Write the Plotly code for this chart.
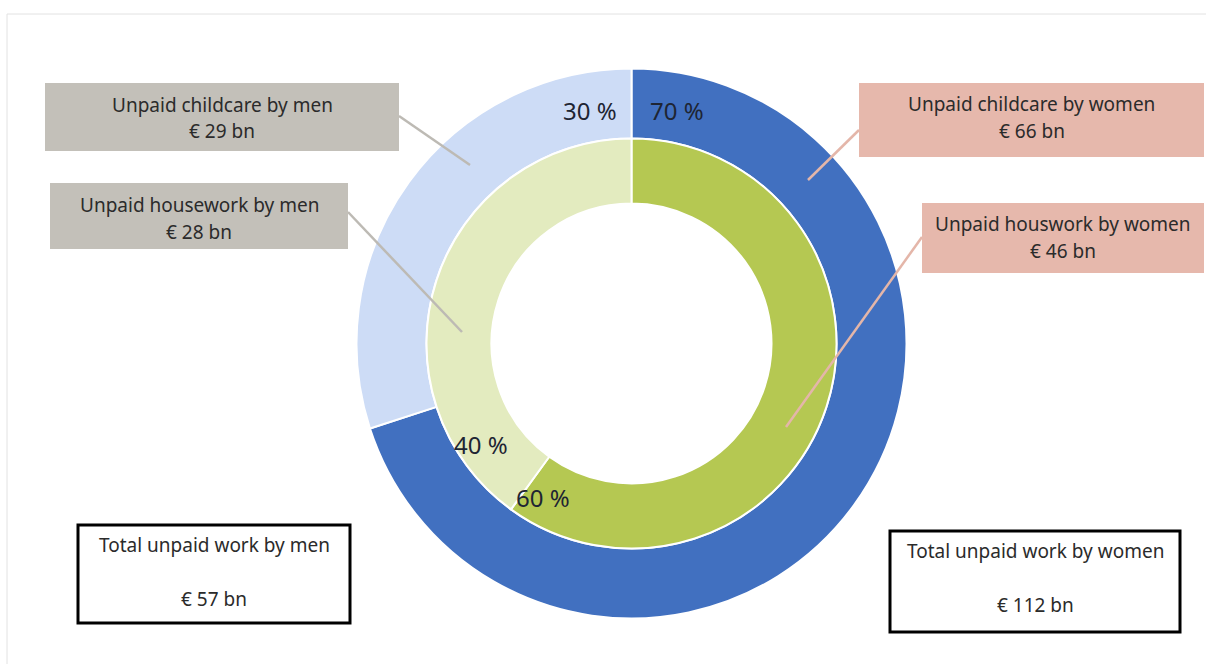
import plotly.graph_objects as go

W, H = 1206, 664

# Shares (percent) of unpaid work by gender
childcare_groups = ["Women", "Men"]
childcare_share = [70, 30]
housework_groups = ["Women", "Men"]
housework_share = [60, 40]

# Monetary value, EUR bn
childcare_bn = {"women": 66, "men": 29}
housework_bn = {"women": 46, "men": 28}
total_bn = {"women": 112, "men": 57}

FONT = "'Noto Sans', 'Open Sans', sans-serif"
TEXT = "#2b2b2b"


def px(x):
    return x / W


def py(y):
    return 1 - y / H


# Ring geometry (pixels)
cx, cy = 631.5, 343.5
r_outer, r_mid, r_inner = 275, 205, 140


def dom(r):
    return dict(x=[px(cx - r), px(cx + r)], y=[py(cy + r), py(cy - r)])


fig = go.Figure()
fig.add_trace(go.Pie(
    labels=childcare_groups, values=childcare_share, sort=False,
    direction="clockwise", rotation=0, hole=r_mid / r_outer,
    domain=dom(r_outer), textinfo="none", hoverinfo="label+percent",
    marker=dict(colors=["#4170C0", "#CDDCF6"], line=dict(color="white", width=2)),
    showlegend=False,
))
fig.add_trace(go.Pie(
    labels=housework_groups, values=housework_share, sort=False,
    direction="clockwise", rotation=0, hole=r_inner / r_mid,
    domain=dom(r_mid), textinfo="none", hoverinfo="label+percent",
    marker=dict(colors=["#B5C852", "#E3EBBF"], line=dict(color="white", width=2)),
    showlegend=False,
))

shapes = []
annotations = []

# Outer frame
shapes.append(dict(type="rect", xref="paper", yref="paper",
                   x0=px(7), x1=px(1220), y0=py(680), y1=py(14),
                   line=dict(color="#E2E2E2", width=1)))


def box(x0, y0, x1, y1, fill, lines, line_ys, border=None, size=19):
    shapes.append(dict(type="rect", xref="paper", yref="paper",
                       x0=px(x0), x1=px(x1), y0=py(y1), y1=py(y0),
                       fillcolor=fill,
                       line=dict(color=border or fill, width=3 if border else 0)))
    for t, ly in zip(lines, line_ys):
        annotations.append(dict(x=px((x0 + x1) / 2), y=py(ly), xref="paper", yref="paper",
                                text=t, showarrow=False,
                                font=dict(family=FONT, size=size, color=TEXT),
                                xanchor="center", yanchor="middle"))


def leader(x0, y0, x1, y1, color):
    shapes.append(dict(type="line", xref="paper", yref="paper",
                       x0=px(x0), y0=py(y0), x1=px(x1), y1=py(y1),
                       line=dict(color=color, width=2.5)))


GREY = "#C3C0B9"
PINK = "#E6B8AC"
GREY_LINE = "#BDBAB4"
PINK_LINE = "#E4B6A9"

leader(399, 116, 470, 165, GREY_LINE)
leader(348, 212, 462, 332, GREY_LINE)
leader(859, 130, 808, 180, PINK_LINE)
leader(922, 237, 786, 427, PINK_LINE)

box(45, 83, 399, 151, GREY,
    ["Unpaid childcare by men", f"€ {childcare_bn['men']} bn"], [105, 131])
box(50, 183, 348, 249, GREY,
    ["Unpaid housework by men", f"€ {housework_bn['men']} bn"], [205, 232])
box(859, 83, 1204, 157, PINK,
    ["Unpaid childcare by women", f"€ {childcare_bn['women']} bn"], [104, 131])
box(922, 203, 1204, 273, PINK,
    ["Unpaid houswork by women", f"€ {housework_bn['women']} bn"], [224, 251])
box(78, 525, 350, 623, "white",
    ["Total unpaid work by men", f"€ {total_bn['men']} bn"], [545, 599], border="black")
box(890, 531, 1180, 632, "white",
    ["Total unpaid work by women", f"€ {total_bn['women']} bn"], [551, 605], border="black")

# Percentage labels on the rings
pct_pos = [
    (f"{childcare_share[1]} %", 590, 110),
    (f"{childcare_share[0]} %", 677, 110),
    (f"{housework_share[1]} %", 481, 444),
    (f"{housework_share[0]} %", 543, 497),
]
for t, x, y in pct_pos:
    annotations.append(dict(x=px(x), y=py(y), xref="paper", yref="paper",
                            text=t, showarrow=False,
                            font=dict(family=FONT, size=24, color="#1E2533"),
                            xanchor="center", yanchor="middle"))

fig.update_layout(
    width=W, height=H,
    margin=dict(l=0, r=0, t=0, b=0),
    paper_bgcolor="white", plot_bgcolor="white",
    shapes=shapes, annotations=annotations,
)

fig.write_html("out.html")
